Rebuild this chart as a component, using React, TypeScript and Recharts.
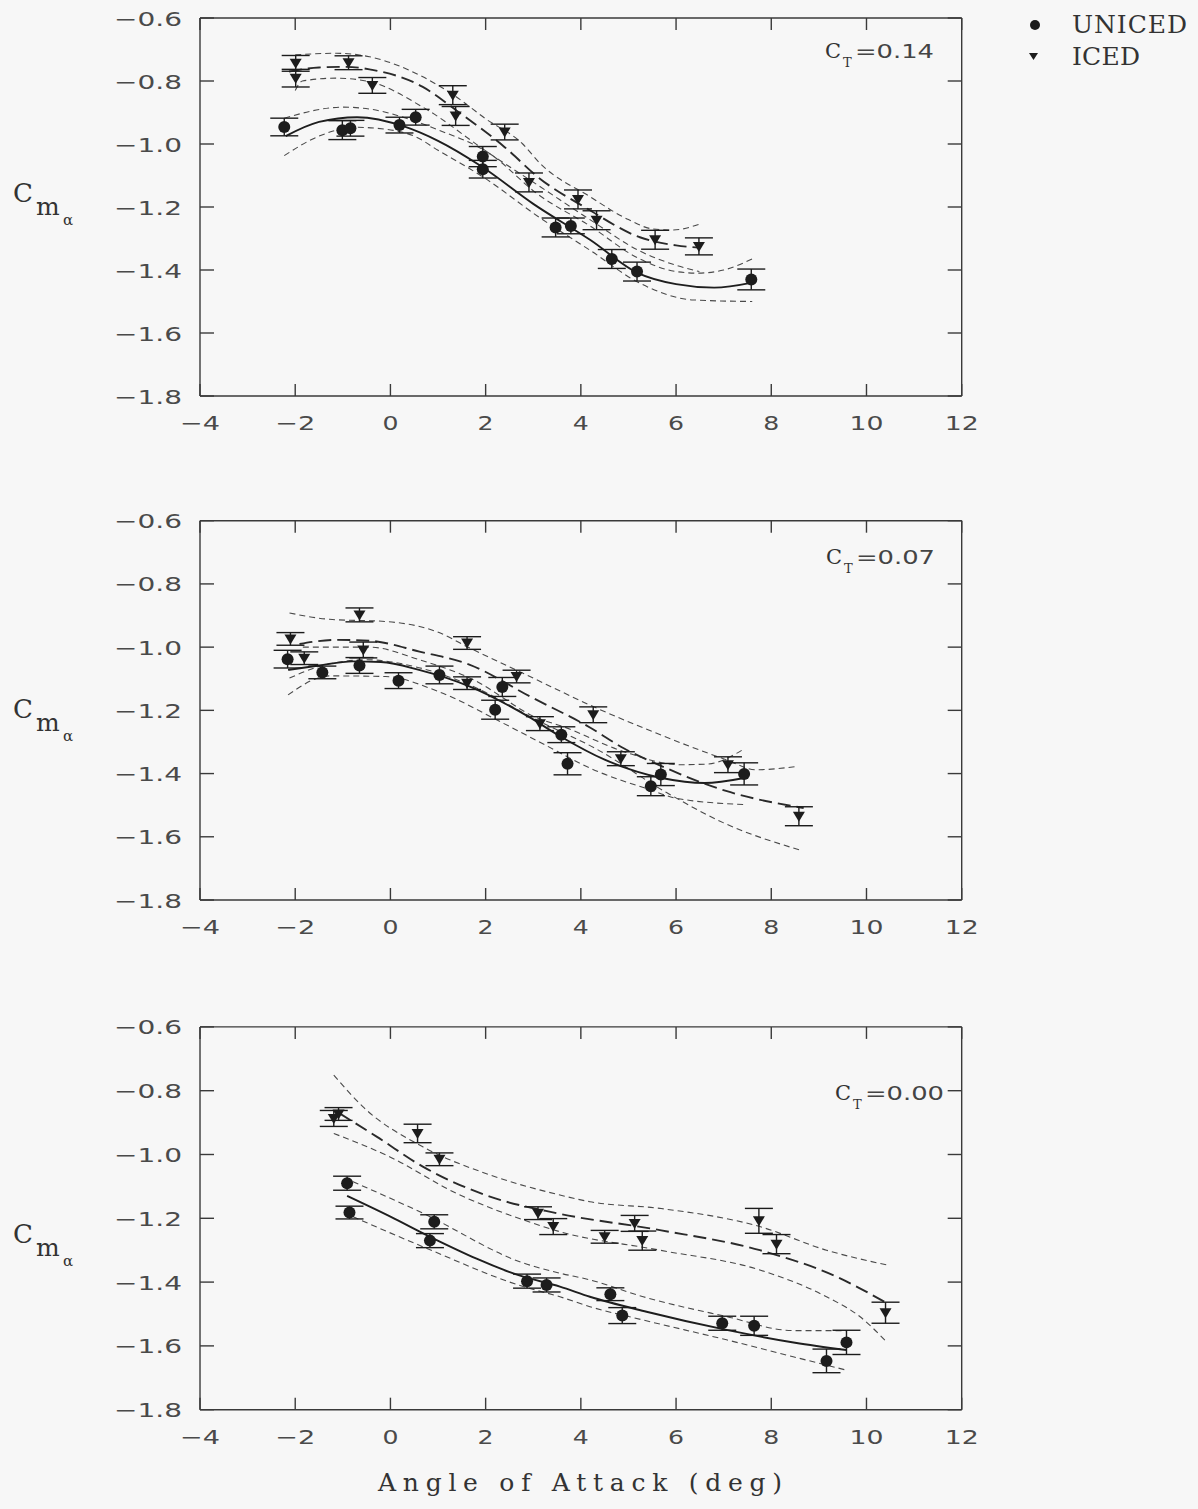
import React from 'react';
import { ComposedChart, Line, Scatter, XAxis, YAxis, ErrorBar } from 'recharts';

type Pt = [number, number, number]; // angle, Cm_alpha, error
type Cv = [number, number]; // angle, Cm_alpha

const X_TICKS = [-4, -2, 0, 2, 4, 6, 8, 10, 12];
const Y_TICKS = [-1.8, -1.6, -1.4, -1.2, -1.0, -0.8, -0.6];
const X_DOMAIN: [number, number] = [-4, 12];
const Y_DOMAIN: [number, number] = [-1.8, -0.6];
const CT_VALUES = ['0.14', '0.07', '0.00'];
const SERIES_NAMES = ['UNICED', 'ICED'];
const X_TITLE = 'Angle of Attack (deg)';

// ---------- CT = 0.14 ----------
const TOP_UNICED: Pt[] = [
  [-2.23, -0.946, 0.028], [-1.01, -0.956, 0.03], [-0.84, -0.95, 0.025], [0.19, -0.94, 0.025],
  [0.53, -0.915, 0.025], [1.94, -1.04, 0.032], [1.94, -1.08, 0.028], [3.47, -1.265, 0.03],
  [3.79, -1.26, 0.025], [4.65, -1.365, 0.03], [5.18, -1.405, 0.03], [7.58, -1.43, 0.033],
];
const TOP_ICED: Pt[] = [
  [-1.99, -0.744, 0.025], [-1.99, -0.791, 0.028], [-0.88, -0.742, 0.022], [-0.38, -0.814, 0.025],
  [1.31, -0.845, 0.03], [1.37, -0.911, 0.03], [2.4, -0.962, 0.025], [2.91, -1.122, 0.03],
  [3.94, -1.176, 0.03], [4.33, -1.242, 0.03], [5.56, -1.304, 0.03], [6.48, -1.325, 0.027],
];
const TOP_U_FIT: Cv[] = [
  [-2.2, -0.975], [-1.5, -0.93], [-0.7, -0.915], [0.3, -0.945], [1.0, -0.99], [1.9, -1.07],
  [3.0, -1.19], [4.2, -1.305], [5.2, -1.41], [6.0, -1.445], [6.8, -1.456], [7.6, -1.44],
];
const TOP_U_HI: Cv[] = [
  [-2.23, -0.918], [-1.0, -0.883], [-0.44, -0.889], [0.33, -0.918], [1.0, -0.955], [2.08, -1.03],
  [3.1, -1.16], [4.19, -1.26], [5.2, -1.362], [6.0, -1.405], [6.44, -1.41], [7.0, -1.4], [7.6, -1.365],
];
const TOP_U_LO: Cv[] = [
  [-2.23, -1.037], [-1.5, -0.975], [-0.72, -0.947], [-0.3, -0.95], [0.5, -0.975], [1.0, -1.02],
  [2.0, -1.11], [3.1, -1.23], [4.19, -1.337], [5.24, -1.442], [6.36, -1.495], [7.6, -1.5],
];
const TOP_I_FIT: Cv[] = [
  [-2.13, -0.77], [-1.5, -0.757], [-0.93, -0.755], [-0.44, -0.763], [0.67, -0.818], [1.4, -0.895],
  [2.4, -1.01], [3.14, -1.11], [4.12, -1.204], [5.24, -1.296], [6.0, -1.322], [6.48, -1.329],
];
const TOP_I_HI: Cv[] = [
  [-2.0, -0.717], [-1.14, -0.712], [-0.44, -0.723], [0.67, -0.786], [1.38, -0.85], [2.0, -0.92],
  [2.78, -1.0], [3.14, -1.061], [4.19, -1.167], [5.0, -1.24], [5.52, -1.27], [5.94, -1.273], [6.5, -1.254],
];
const TOP_I_LO: Cv[] = [
  [-2.0, -0.83], [-1.85, -0.8], [-1.14, -0.791], [-0.44, -0.802], [0.67, -0.882], [2.08, -1.03],
  [3.14, -1.135], [4.19, -1.24], [5.24, -1.34], [6.0, -1.385], [6.49, -1.405],
];

// ---------- CT = 0.07 ----------
const MID_UNICED: Pt[] = [
  [-2.16, -1.038, 0.028], [-1.43, -1.08, 0.02], [-0.65, -1.058, 0.025], [0.17, -1.106, 0.025],
  [1.03, -1.088, 0.028], [2.2, -1.198, 0.03], [2.35, -1.126, 0.03], [3.59, -1.277, 0.025],
  [3.72, -1.369, 0.035], [5.47, -1.44, 0.03], [5.68, -1.403, 0.035], [7.43, -1.401, 0.035],
];
const MID_ICED: Pt[] = [
  [-2.1, -0.974, 0.02], [-1.81, -1.035, 0.02], [-0.65, -0.898, 0.022], [-0.57, -1.009, 0.025],
  [1.61, -0.987, 0.02], [1.61, -1.114, 0.02], [2.65, -1.093, 0.02], [3.14, -1.242, 0.022],
  [4.26, -1.214, 0.025], [4.84, -1.353, 0.022], [7.09, -1.372, 0.025], [8.58, -1.535, 0.03],
];
const MID_U_FIT: Cv[] = [
  [-2.15, -1.072], [-1.5, -1.058], [-0.8, -1.045], [-0.2, -1.047], [0.6, -1.072], [1.67, -1.125],
  [2.9, -1.22], [3.6, -1.285], [4.5, -1.356], [5.7, -1.414], [6.6, -1.43], [7.43, -1.414],
];
const MID_U_HI: Cv[] = [
  [-1.84, -1.0], [-0.44, -1.0], [0.61, -1.04], [1.7, -1.1], [3.13, -1.227], [3.6, -1.25],
  [4.89, -1.33], [6.08, -1.372], [6.65, -1.37], [7.43, -1.322],
];
const MID_U_LO: Cv[] = [
  [-2.15, -1.151], [-1.28, -1.091], [-0.1, -1.093], [1.0, -1.14], [2.36, -1.24], [3.13, -1.3],
  [4.3, -1.39], [5.45, -1.451], [6.0, -1.478], [7.43, -1.498],
];
const MID_I_FIT: Cv[] = [
  [-1.91, -0.99], [-1.14, -0.977], [-0.44, -0.98], [0.61, -1.014], [1.67, -1.056], [2.93, -1.156],
  [4.2, -1.255], [4.9, -1.32], [5.6, -1.37], [7.05, -1.455], [8.68, -1.509],
];
const MID_I_HI: Cv[] = [
  [-2.12, -0.892], [-1.28, -0.912], [-0.09, -0.919], [0.97, -0.951], [1.67, -1.003], [2.93, -1.093],
  [4.26, -1.188], [5.58, -1.272], [7.05, -1.356], [7.68, -1.388], [8.56, -1.377],
];
const MID_I_LO: Cv[] = [
  [-2.12, -1.098], [-1.49, -1.061], [-0.5, -1.04], [0.6, -1.065], [1.67, -1.12], [3.13, -1.235],
  [4.3, -1.32], [5.8, -1.46], [7.0, -1.556], [8.6, -1.642],
];

// ---------- CT = 0.00 ----------
const BOT_UNICED: Pt[] = [
  [-0.91, -1.09, 0.022], [-0.86, -1.182, 0.02], [0.92, -1.211, 0.022], [0.83, -1.27, 0.022],
  [2.87, -1.397, 0.022], [3.28, -1.409, 0.022], [4.62, -1.438, 0.02], [4.87, -1.505, 0.025],
  [6.97, -1.529, 0.022], [7.64, -1.537, 0.03], [9.16, -1.647, 0.037], [9.58, -1.589, 0.038],
];
const BOT_ICED: Pt[] = [
  [-1.19, -0.887, 0.025], [-1.09, -0.873, 0.02], [0.57, -0.934, 0.029], [1.03, -1.015, 0.02],
  [3.1, -1.184, 0.02], [3.42, -1.226, 0.025], [4.5, -1.258, 0.02], [5.13, -1.216, 0.025],
  [5.29, -1.27, 0.03], [7.74, -1.208, 0.039], [8.11, -1.281, 0.03], [10.4, -1.496, 0.033],
];
const BOT_U_FIT: Cv[] = [
  [-0.91, -1.13], [0.0, -1.195], [0.83, -1.258], [2.79, -1.383], [3.56, -1.414], [4.19, -1.446],
  [5.38, -1.493], [7.06, -1.55], [8.5, -1.59], [9.58, -1.613],
];
const BOT_U_HI: Cv[] = [
  [-0.79, -1.085], [0.68, -1.184], [2.79, -1.34], [3.56, -1.372], [4.19, -1.393], [5.31, -1.446],
  [7.06, -1.508], [8.46, -1.552], [9.58, -1.552],
];
const BOT_U_LO: Cv[] = [
  [-0.79, -1.195], [0.68, -1.289], [2.79, -1.414], [3.56, -1.446], [4.19, -1.477], [5.31, -1.519],
  [7.06, -1.581], [8.46, -1.634], [9.58, -1.676],
];
const BOT_I_FIT: Cv[] = [
  [-1.07, -0.871], [-0.29, -0.944], [0.68, -1.038], [2.09, -1.132], [3.49, -1.184], [5.66, -1.237],
  [7.76, -1.3], [9.37, -1.383], [10.38, -1.462],
];
const BOT_I_HI: Cv[] = [
  [-1.19, -0.751], [-0.58, -0.85], [0.68, -0.976], [2.09, -1.064], [3.56, -1.127], [4.19, -1.148],
  [5.66, -1.169], [7.76, -1.226], [9.16, -1.3], [10.42, -1.346],
];
const BOT_I_LO: Cv[] = [
  [-1.19, -0.934], [-0.02, -1.007], [1.39, -1.122], [2.79, -1.205], [3.56, -1.242], [5.66, -1.3],
  [7.76, -1.362], [9.16, -1.446], [9.86, -1.508], [10.42, -1.587],
];

// ---------- layout (positions only) ----------
const CHART_W = 1198;
const PLOT_RIGHT = 961.7;
const PANEL_LAYOUT = [
  { top: 0, marginTop: 18, plotH: 378, labelDy: 0, ctDy: 0, ctDx: 0 },
  { top: 500, marginTop: 20.7, plotH: 379.3, labelDy: 516, ctDy: 506, ctDx: 1 },
  { top: 1000, marginTop: 26.9, plotH: 382.8, labelDy: 1041, ctDy: 1041.5, ctDx: 10 },
];

const INK = '#1c1c1c';
const AXIS = '#3a3a3a';

const toPts = (arr: Pt[]) => arr.map(([a, cm, e]) => ({ a, cm, e }));
const toCv = (arr: Cv[]) => arr.map(([a, cm]) => ({ a, cm }));

const fmt = (v: number, dec: number) => (v < 0 ? '\u2212' : '') + Math.abs(v).toFixed(dec);
const tickLen = (s: string) =>
  s.split('').reduce((n, ch) => n + (ch === '\u2212' ? 24 : ch === '.' ? 10 : 18), 0);

const XTick = (props: any) => {
  const { x, y, payload } = props;
  const s = fmt(payload.value, 0);
  return (
    <text x={x} y={y + 15} textAnchor="middle" fontFamily="DejaVu Sans" fontSize={20} fill="#4a4a4a"
      textLength={tickLen(s) - 2} lengthAdjust="spacingAndGlyphs">{s}</text>
  );
};
const YTick = (props: any) => {
  const { x, y, payload } = props;
  const s = fmt(payload.value, 1);
  return (
    <text x={x} y={y + 7.5} textAnchor="end" fontFamily="DejaVu Sans" fontSize={20} fill="#4a4a4a"
      textLength={tickLen(s) - 2} lengthAdjust="spacingAndGlyphs">{s}</text>
  );
};

const Dot = (p: any) => <circle cx={p.cx} cy={p.cy} r={6} fill={INK} />;
const Tri = (p: any) => (
  <path d={`M${p.cx - 6},${p.cy - 4.5}L${p.cx + 6},${p.cy - 4.5}L${p.cx},${p.cy + 5.5}Z`} fill={INK} />
);

type PanelProps = {
  layout: typeof PANEL_LAYOUT[number];
  uniced: Pt[]; iced: Pt[];
  uFit: Cv[]; uHi: Cv[]; uLo: Cv[];
  iFit: Cv[]; iHi: Cv[]; iLo: Cv[];
};

function Panel({ layout, uniced, iced, uFit, uHi, uLo, iFit, iHi, iLo }: PanelProps) {
  const bottomH = 50;
  const height = layout.marginTop + layout.plotH + bottomH;
  const band = { stroke: '#4a4a4a', strokeWidth: 1.1, strokeDasharray: '6 4' };
  const common = { xAxisId: 'b', yAxisId: 'l', dataKey: 'cm', dot: false, activeDot: false, isAnimationActive: false, type: 'monotone' as const };
  const tl = { stroke: AXIS, strokeWidth: 1.4 };
  return (
    <div style={{ position: 'absolute', left: 0, top: layout.top }}>
      <ComposedChart width={CHART_W} height={height}
        margin={{ top: layout.marginTop - 1, right: CHART_W - PLOT_RIGHT - 1, bottom: 0, left: 0 }}>
        <XAxis xAxisId="b" type="number" dataKey="a" domain={X_DOMAIN} ticks={X_TICKS} allowDataOverflow
          orientation="bottom" height={bottomH} tickSize={-12} tickMargin={31} interval={0}
          tick={<XTick />} stroke={AXIS} strokeWidth={1.4} tickLine={tl} />
        <XAxis xAxisId="t" type="number" dataKey="a" domain={X_DOMAIN} ticks={X_TICKS} allowDataOverflow
          orientation="top" height={1} tickSize={-12} interval={0} tickFormatter={() => ''}
          stroke={AXIS} strokeWidth={1.4} tickLine={tl} />
        <YAxis yAxisId="l" type="number" dataKey="cm" domain={Y_DOMAIN} ticks={Y_TICKS} allowDataOverflow
          width={200} tickSize={-14} tickMargin={32} interval={0} tick={<YTick />}
          stroke={AXIS} strokeWidth={1.4} tickLine={tl} />
        <YAxis yAxisId="r" type="number" dataKey="cm" domain={Y_DOMAIN} ticks={Y_TICKS} allowDataOverflow
          orientation="right" width={1} tickSize={-14} interval={0} tickFormatter={() => ''}
          stroke={AXIS} strokeWidth={1.4} tickLine={tl} />

        <Line {...common} data={toCv(uHi)} {...band} />
        <Line {...common} data={toCv(uLo)} {...band} />
        <Line {...common} data={toCv(iHi)} {...band} />
        <Line {...common} data={toCv(iLo)} {...band} />
        <Line {...common} data={toCv(iFit)} stroke="#2a2a2a" strokeWidth={1.9} strokeDasharray="13 6" />
        <Line {...common} data={toCv(uFit)} stroke="#1e1e1e" strokeWidth={1.9} />

        <Scatter xAxisId="b" yAxisId="l" data={toPts(uniced)} dataKey="cm" shape={Dot} isAnimationActive={false}>
          <ErrorBar dataKey="e" direction="y" width={14} stroke={INK} strokeWidth={1.4} />
        </Scatter>
        <Scatter xAxisId="b" yAxisId="l" data={toPts(iced)} dataKey="cm" shape={Tri} isAnimationActive={false}>
          <ErrorBar dataKey="e" direction="y" width={14} stroke={INK} strokeWidth={1.4} />
        </Scatter>
      </ComposedChart>
    </div>
  );
}

function Overlay() {
  const serif = 'DejaVu Serif';
  return (
    <svg width={CHART_W} height={1509} style={{ position: 'absolute', left: 0, top: 0, pointerEvents: 'none' }}>
      {PANEL_LAYOUT.map((l, i) => (
        <g key={i}>
          <text x={13} y={202 + l.labelDy} fontFamily={serif} fontSize={26} fill="#333">C</text>
          <text x={36} y={215 + l.labelDy} fontFamily={serif} fontSize={25} fill="#333">m</text>
          <text x={63} y={225 + l.labelDy} fontFamily={serif} fontSize={15} fill="#333">α</text>
          <text x={825 + l.ctDx} y={58 + l.ctDy} fontFamily={serif} fontSize={21} fill="#333">C</text>
          <text x={843 + l.ctDx} y={67 + l.ctDy} fontFamily={serif} fontSize={13} fill="#333">T</text>
          <text x={855 + l.ctDx} y={58 + l.ctDy} fontFamily="DejaVu Sans" fontSize={19} fill="#444"
            textLength={79} lengthAdjust="spacingAndGlyphs">{'=' + CT_VALUES[i]}</text>
        </g>
      ))}
      <circle cx={1035} cy={25} r={5} fill={INK} />
      <path d="M1029,53L1038,53L1033.5,60Z" fill={INK} />
      <text x={1072} y={33} fontFamily={serif} fontSize={25} fill="#333" textLength={115} lengthAdjust="spacing">{SERIES_NAMES[0]}</text>
      <text x={1072} y={65} fontFamily={serif} fontSize={25} fill="#333" textLength={68} lengthAdjust="spacing">{SERIES_NAMES[1]}</text>
      <text x={580} y={1491} textAnchor="middle" fontFamily={serif} fontSize={25} fill="#333"
        textLength={404} lengthAdjust="spacing">{X_TITLE}</text>
    </svg>
  );
}

export default function App() {
  return (
    <div style={{ position: 'absolute', left: 0, top: 0, width: CHART_W, height: 1509, background: '#f7f7f7' }}>
      <Panel layout={PANEL_LAYOUT[0]} uniced={TOP_UNICED} iced={TOP_ICED}
        uFit={TOP_U_FIT} uHi={TOP_U_HI} uLo={TOP_U_LO} iFit={TOP_I_FIT} iHi={TOP_I_HI} iLo={TOP_I_LO} />
      <Panel layout={PANEL_LAYOUT[1]} uniced={MID_UNICED} iced={MID_ICED}
        uFit={MID_U_FIT} uHi={MID_U_HI} uLo={MID_U_LO} iFit={MID_I_FIT} iHi={MID_I_HI} iLo={MID_I_LO} />
      <Panel layout={PANEL_LAYOUT[2]} uniced={BOT_UNICED} iced={BOT_ICED}
        uFit={BOT_U_FIT} uHi={BOT_U_HI} uLo={BOT_U_LO} iFit={BOT_I_FIT} iHi={BOT_I_HI} iLo={BOT_I_LO} />
      <Overlay />
    </div>
  );
}
